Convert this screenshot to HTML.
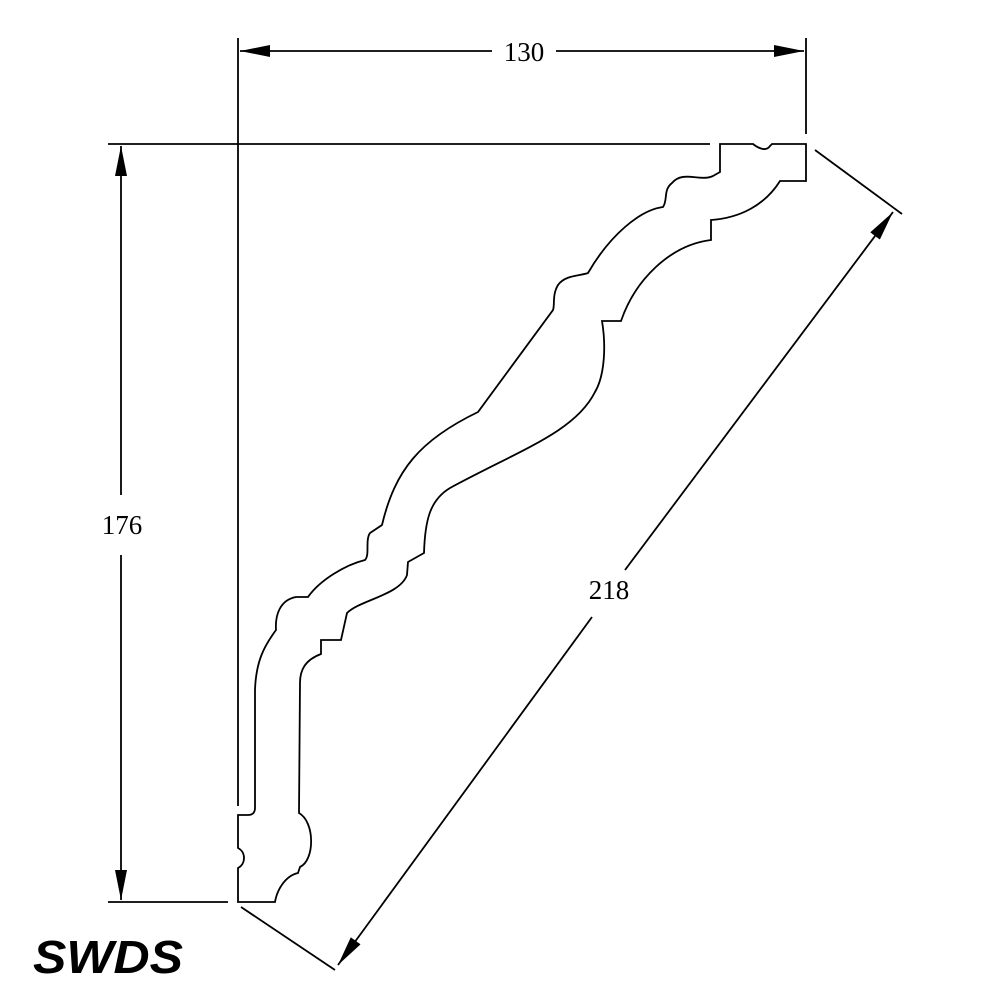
<!DOCTYPE html>
<html><head><style>
html,body{margin:0;padding:0;background:#fff;}
svg{display:block;}
</style></head><body>
<svg width="1000" height="1000" viewBox="0 0 1000 1000" xmlns="http://www.w3.org/2000/svg">
<defs>
<marker id="a" viewBox="0 0 30 12" refX="30" refY="6" markerWidth="30" markerHeight="12" markerUnits="userSpaceOnUse" orient="auto"><path d="M0,0 L30,6 L0,12 z" fill="#000"/></marker>
</defs>
<g stroke="#000" stroke-width="1.8" fill="none">
<line x1="238" y1="38" x2="238" y2="806"/>
<line x1="806" y1="38" x2="806" y2="134"/>
<line x1="108" y1="144" x2="710" y2="144"/>
<line x1="108" y1="902" x2="228" y2="902"/>
<line x1="241" y1="907" x2="335" y2="970"/>
<line x1="815" y1="150" x2="902" y2="214"/>
<line x1="492" y1="51" x2="240" y2="51" marker-end="url(#a)"/>
<line x1="556" y1="51" x2="804" y2="51" marker-end="url(#a)"/>
<line x1="121" y1="495" x2="121" y2="146" marker-end="url(#a)"/>
<line x1="121" y1="555" x2="121" y2="900" marker-end="url(#a)"/>
<line x1="592" y1="617" x2="338" y2="965" marker-end="url(#a)"/>
<line x1="625" y1="570" x2="893" y2="212" marker-end="url(#a)"/>
<path d="M720,144 L753,144 C758,148 766,152 770,146 L772,144 L806,144 L806,181 L780,181
C765,205 740,218 711,220 L711,240
C670,245 635,280 621,321 L602,321
C606,345 605,375 595,392 C575,432 520,450 450,488 C430,500 425,520 424,553
L408,562 L407,575 C400,595 360,600 347,613 L341,640 L321,640 L321,654 C305,660 300,670 300,683
L299,813 C315,822 315,860 300,867 L298,873 C285,876 277,890 275,902 L238,902
L238,868 C246,864 246,852 238,848 L238,815 L248,815 C253,815 255,812 255,808
L255,690 C256,660 265,645 276,630 C275,615 280,600 296,597 L308,597
C320,580 345,565 365,560 C370,555 365,540 370,533 L382,525
C395,470 420,440 478,412 L553,310 C555,305 552,295 558,285 C565,275 580,276 588,273
C610,235 640,210 663,207 C668,200 663,190 672,183 C683,170 700,182 713,176 L720,172 Z"/>
</g>
<g font-family="'Liberation Serif',serif" font-size="27" fill="#000" text-anchor="middle">
<text x="524" y="61">130</text>
<text x="122" y="534">176</text>
<text x="609" y="599">218</text>
</g>
<text x="33" y="973" font-family="'Liberation Sans',sans-serif" font-weight="bold" font-style="italic" font-size="46" fill="#000" textLength="150" lengthAdjust="spacingAndGlyphs">SWDS</text>
</svg>
</body></html>
